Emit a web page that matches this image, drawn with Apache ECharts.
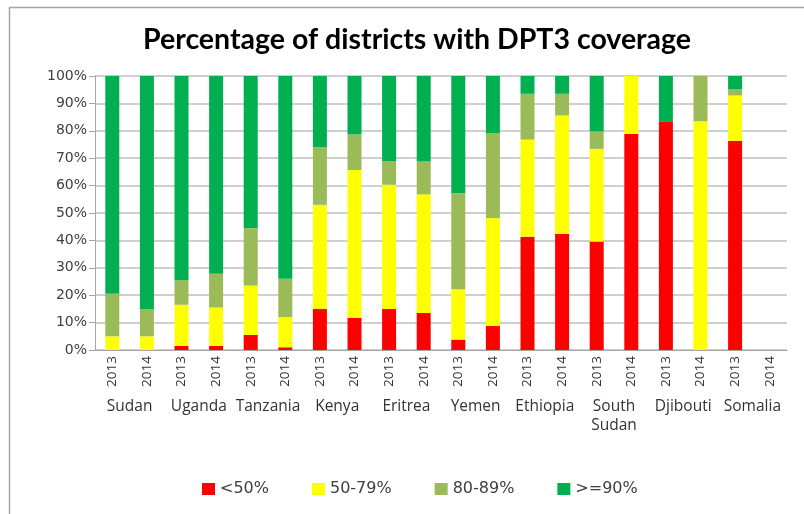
<!DOCTYPE html>
<html><head><meta charset="utf-8">
<script src="https://cdn.jsdelivr.net/npm/echarts@6/dist/echarts.min.js"></script>
<style>html,body{margin:0;padding:0;background:#fff}#c{width:804px;height:514px}</style>
</head><body><div id="c"></div>
<script>
const years = ['2013','2014','2013','2014','2013','2014','2013','2014','2013','2014','2013','2014','2013','2014','2013','2014','2013','2014','2013','2014'];
const countries = ['Sudan','Uganda','Tanzania','Kenya','Eritrea','Yemen','Ethiopia','South\nSudan','Djibouti','Somalia'];
const below50 = [0,0,1.5,1.5,5.5,1,15,11.7,15,13.5,3.8,8.8,41.3,42.3,39.6,78.9,83.5,0,76.3,null];
const r50to79 = [5,5,15,14,18,11,38,54,45.3,43.3,18.4,39.4,35.5,43.3,33.8,21.1,0,83.5,16.6,null];
const r80to89 = [15.5,10,9,12.3,21,14,21,13,8.6,12,35,31,16.7,7.9,6.4,0,0,16.5,2.2,null];
const above90 = [79.5,85,74.5,72.2,55.5,74,26,21.3,31.1,31.2,42.8,20.8,6.5,6.5,20.2,0,16.5,0,4.9,null];
const seriesNames = ['<50%','50-79%','80-89%','>=90%'];
const colors = ['#FF0000','#FFFF00','#9BBB59','#00B050'];
const data = [below50, r50to79, r80to89, above90];

const chart = echarts.init(document.getElementById('c'));
const font = 'Open Sans';
chart.setOption({
  animation:false,
  title:{text:'Percentage of districts with DPT3 coverage',left:412,textAlign:'center',top:20,
    textStyle:{fontFamily:'Lato',fontWeight:'bold',fontSize:28.5,color:'#000'}},
  graphic:[{type:'rect',shape:{x:9.5,y:7.5,width:900,height:700},style:{fill:null,stroke:'#a6a6a6',lineWidth:1.5}}],
  legend:{bottom:12,left:197,itemWidth:13,itemHeight:12,itemGap:43,icon:'rect',
    textStyle:{fontFamily:'DejaVu Sans',fontSize:16,color:'#404040'}},
  grid:{left:95,right:17,top:76,bottom:164,containLabel:false},
  xAxis:[{type:'category',data:years,position:'bottom',
      axisLine:{lineStyle:{color:'#a6a6a6'}},
      axisTick:{length:37,lineStyle:{color:'#a6a6a6'}},
      axisLabel:{rotate:90,margin:6,fontFamily:font,fontSize:13.5,color:'#333',interval:0}},
    {type:'category',data:countries,position:'bottom',
      axisLine:{show:false},
      axisTick:{length:78,lineStyle:{color:'#a6a6a6'}},
      axisLabel:{margin:47,fontFamily:font,fontSize:15.5,color:'#333',interval:0,lineHeight:19,verticalAlign:'top'}}],
  yAxis:{type:'value',min:0,max:100,interval:10,
    axisLine:{show:true,lineStyle:{color:'#a6a6a6'}},
    axisTick:{show:true,length:6,lineStyle:{color:'#a6a6a6'}},
    splitLine:{lineStyle:{color:'#bfbfbf',width:1.5}},
    axisLabel:{formatter:'{value}%',fontFamily:'DejaVu Sans',fontSize:14,color:'#404040',margin:8}},
  series:seriesNames.map((n,i)=>({name:n,type:'bar',stack:'s',data:data[i],barWidth:14,
    itemStyle:{color:colors[i]},xAxisIndex:0}))
});
</script></body></html>
